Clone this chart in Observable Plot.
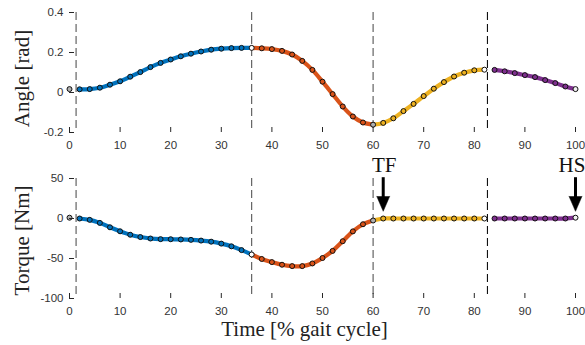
<!DOCTYPE html>
<html>
<head>
<meta charset="utf-8">
<script src="https://cdn.jsdelivr.net/npm/d3@7"></script>
<script src="https://cdn.jsdelivr.net/npm/@observablehq/plot@0.6"></script>
<style>
  html, body { margin: 0; padding: 0; background: #fff; }
  #chart { width: 585px; height: 345px; position: relative; }
  #chart svg { display: block; overflow: visible; }
</style>
</head>
<body>
<div id="chart"></div>
<script>
// ---- data ----
const pct = [0,2,4,6,8,10,12,14,16,18,20,22,24,26,28,30,32,34,36,38,40,42,44,46,48,50,
             52,54,56,58,60,62,64,66,68,70,72,74,76,78,80,82,84,86,88,90,92,94,96,98,100];
const angle = [0.017,0.016,0.017,0.024,0.039,0.056,0.079,0.102,0.127,0.148,0.165,0.181,0.194,0.205,0.214,0.219,0.222,0.223,0.223,
               0.221,0.217,0.208,0.190,0.158,0.113,0.054,-0.008,-0.070,-0.120,-0.150,-0.161,
               -0.152,-0.129,-0.093,-0.057,-0.018,0.019,0.052,0.080,0.099,0.111,0.114,
               0.113,0.106,0.097,0.087,0.077,0.062,0.047,0.030,0.017];
const torque = [1,0,-1.7,-5.5,-11,-16,-20.3,-23.2,-25,-25.8,-25.9,-26.2,-26.7,-27.6,-29,-31.4,-34.8,-39.5,-45,
                -50.6,-54.5,-57.8,-59.5,-59.5,-56.2,-49.4,-40.5,-28.4,-16.1,-7.2,-2.5,
                0,0,0,0,0,0,0,0,0,0,0,
                0,0,0,0,0,0,0,0,1];
// phase segments (start %, end %)
const segStart = [2, 36, 60, 84];
const segEnd   = [36, 60, 82, 100];
const segColors = ["#0072BD", "#D95319", "#EDB120", "#7E2F8E"];
// boundary samples drawn with neutral fills
const boundaryPct  = [0, 36, 60, 82, 100];
const boundaryFill = ["#b0b0b0", "#ffffff", "#b0b0b0", "#ffffff", "#f0f0f0"];
// dashed phase dividers
const dividers = [1.3, 36, 60, 82.6];
const dividerColors = ["#555", "#555", "#555", "#111"];
// axis ticks
const xTicks = [0,10,20,30,40,50,60,70,80,90,100];
const angleTicks = [-0.2, 0, 0.2, 0.4];
const torqueTicks = [-100, -50, 0, 50];
// event arrows in torque panel
const events = ["TF", "HS"];
const eventPct = [62, 100];
const eventLabelPct = [62.2, 99.3];
const arrowTop = 51, arrowTip = 9, eventLabelY = 67;

// ---- build tables ----
function rows(values) {
  return pct.map((p, i) => {
    const b = boundaryPct.indexOf(p);
    let seg = segStart.findIndex((s, k) => p >= s && p <= segEnd[k]);
    return {p, v: values[i], fill: b >= 0 ? boundaryFill[b] : segColors[seg]};
  });
}
function segRows(values) {
  const out = [];
  segStart.forEach((s, k) => {
    pct.forEach((p, i) => { if (p >= s && p <= segEnd[k]) out.push({p, v: values[i], seg: k}); });
  });
  return out;
}
const divRows = dividers.map((d, i) => ({d, c: dividerColors[i]}));
const evRows = events.map((e, i) => ({label: e, p: eventPct[i], lp: eventLabelPct[i]}));

const W = 585, ML = 69, MR = 10;
const serif = "Liberation Serif, Times New Roman, serif";
const sans = "Liberation Sans, Arial, Helvetica, sans-serif";
const axisColor = "#262626";
const tickFont = 11.5;

function panel({values, domain, ticks, height, mt, mb, ylabel, ylabelDy, extra = [], xlabel = null}) {
  const plotH = height - mt - mb;
  const plotW = W - ML - MR;
  const marks = [
    Plot.ruleX(divRows, {x: "d", stroke: "c", strokeWidth: 1.1, strokeDasharray: "8,4"}),
    Plot.line(segRows(values), {x: "p", y: "v", z: "seg", stroke: d => segColors[d.seg], strokeWidth: 4.2, curve: "catmull-rom"}),
    Plot.dot(rows(values), {x: "p", y: "v", r: 2.5, fill: "fill", stroke: "#111", strokeWidth: 1}),
    Plot.axisY({ticks, tickSize: 0, tickPadding: 6, line: true, label: null, tickFormat: d => String(d),
                stroke: axisColor, fill: "#333", fontSize: tickFont, fontFamily: sans}),
    Plot.axisX({ticks: xTicks, tickSize: 0, tickPadding: 8, line: true, label: null, tickFormat: d => String(d),
                stroke: axisColor, fill: "#333", fontSize: tickFont, fontFamily: sans}),
    Plot.tickY(ticks, {y: d => d, insetRight: plotW - 5, stroke: axisColor}),
    Plot.tickX(xTicks, {x: d => d, insetTop: plotH - 5, stroke: axisColor}),
    Plot.text([ylabel], {frameAnchor: "left", textAnchor: "middle", rotate: -90, dx: -47, dy: ylabelDy, lineAnchor: "middle",
                         fontFamily: serif, fontSize: 21, fill: "#222"}),
    ...extra
  ];
  if (xlabel) {
    marks.push(Plot.text([xlabel], {frameAnchor: "bottom", textAnchor: "middle", dx: -18, dy: 31, lineAnchor: "middle",
                                    fontFamily: serif, fontSize: 21, fill: "#222"}));
  }
  return Plot.plot({
    width: W, height,
    marginLeft: ML, marginRight: MR, marginTop: mt, marginBottom: mb,
    x: {domain: [0, 100]},
    y: {domain},
    style: {fontFamily: sans, fontSize: "11.5px", color: axisColor, background: "#fff", overflow: "visible"},
    marks
  });
}

const topPanel = panel({values: angle, domain: [-0.2, 0.4], ticks: angleTicks, height: 150, mt: 12, mb: 18,
                   ylabel: "Angle [rad]", ylabelDy: 6});
const bottomPanel = panel({values: torque, domain: [-100, 50], ticks: torqueTicks, height: 195, mt: 28, mb: 47,
                      ylabel: "Torque [Nm]", ylabelDy: 2, xlabel: "Time [% gait cycle]",
                      extra: [
                        Plot.ruleX(evRows, {x: "p", y1: arrowTop, y2: arrowTip + 6, stroke: "black", strokeWidth: 3}),
                        Plot.vector(evRows, {x: "p", y: arrowTip, length: 15, rotate: 180, anchor: "end", shape: "spike", r: 6.5, fill: "black", stroke: "black", strokeWidth: 0.5}),
                        Plot.text(evRows, {x: "lp", y: eventLabelY, text: "label", lineAnchor: "middle", fontFamily: serif, fontSize: 21, fill: "#111"})
                      ]});
const el = document.getElementById("chart");
el.appendChild(topPanel);
el.appendChild(bottomPanel);
</script>
</body>
</html>
